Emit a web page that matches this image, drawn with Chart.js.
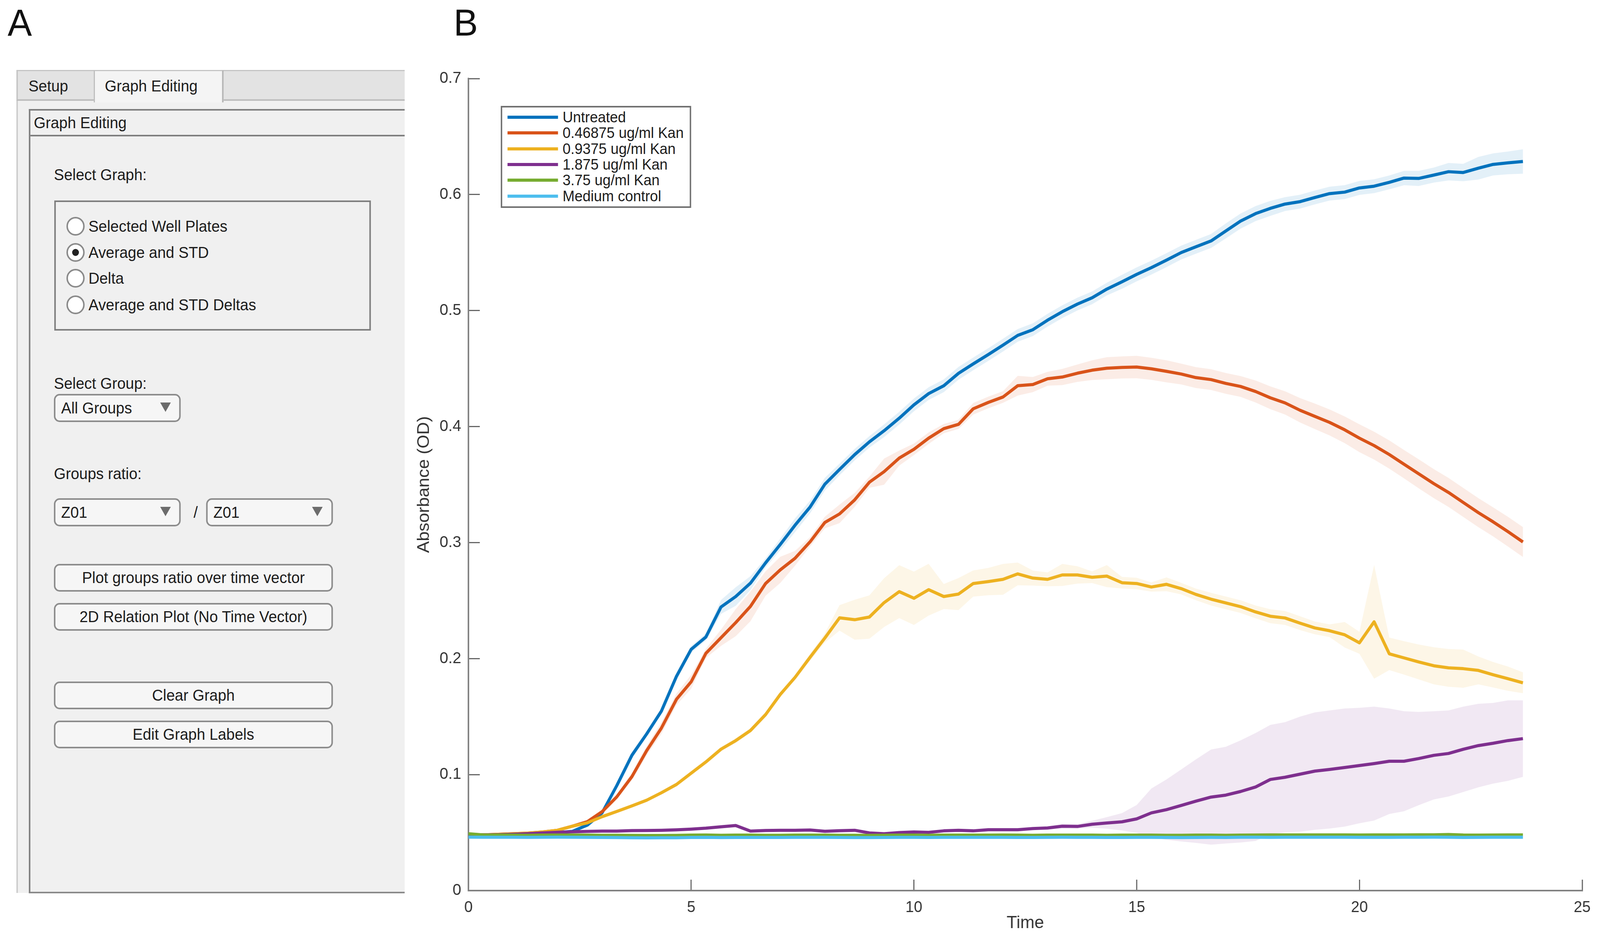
<!DOCTYPE html>
<html>
<head>
<meta charset="utf-8">
<script src="https://cdn.jsdelivr.net/npm/chart.js@4"></script>
<style>
html,body{margin:0;padding:0;background:#fff;overflow:hidden;font-family:"Liberation Sans",Arial,sans-serif}
#page{position:absolute;left:0;top:0;width:4215px;height:2408px;transform-origin:0 0;overflow:hidden;background:#fff}
canvas{position:absolute;left:0;top:0}
.abs{position:absolute;box-sizing:border-box}
.t{position:absolute;white-space:nowrap;font-size:40px;color:#1c1c1c;line-height:60px;height:60px}
.btn{position:absolute;box-sizing:border-box;border:4px solid #8c8c8c;border-radius:15px;background:#f6f6f6;font-size:40px;color:#1c1c1c;display:flex;align-items:center;justify-content:center}
.drop{justify-content:flex-start;padding-left:15px}
.arrow{position:absolute;width:0;height:0;border-left:14px solid transparent;border-right:14px solid transparent;border-top:24px solid #6c6c6c}
.radio{position:absolute;box-sizing:border-box;width:48px;height:48px;border-radius:50%;border:4px solid #8a8a8a;background:#fff}
.dot{position:absolute;left:11px;top:11px;width:18px;height:18px;border-radius:50%;background:#222}
.big{position:absolute;font-size:96px;color:#111;line-height:96px}
#legend{position:absolute;left:1319px;top:271px;width:502px;height:261px;box-sizing:border-box;border:4px solid #707070;background:#fff}
.leg-row{position:absolute;left:0;height:40px}
.leg-line{position:absolute;left:14px;top:16px;width:133px;height:8px}
.leg-text{position:absolute;left:159px;top:-4px;font-size:38px;line-height:48px;white-space:nowrap;color:#1c1c1c}
</style>
</head>
<body>
<div id="page">
<canvas id="growth" width="4215" height="2408"></canvas>

<div class="big" style="left:20px;top:10px">A</div>
<div class="big" style="left:1195px;top:10px">B</div>

<div class="abs" style="left:43px;top:179px;width:1023px;height:2106px;background:#f0f0f0;border-left:4px solid #cbcbcb"></div>
<div class="abs" style="left:43px;top:179px;width:1023px;height:79px;background:#e3e3e3;border-top:3px solid #c4c4c4;border-bottom:4px solid #bdbdbd;border-left:4px solid #c4c4c4"></div>
<div class="abs" style="left:247px;top:179px;width:342px;height:83px;background:#f4f4f4;border-left:3px solid #bdbdbd;border-right:4px solid #b5b5b5;border-top:3px solid #c4c4c4"></div>
<div class="t" style="left:75px;top:190px">Setup</div>
<div class="t" style="left:276px;top:190px">Graph Editing</div>

<div class="abs" style="left:76px;top:279px;width:990px;height:2007px;border-left:4px solid #7e7e7e;border-top:4px solid #7e7e7e;border-bottom:4px solid #8a8a8a"></div>
<div class="abs" style="left:80px;top:345px;width:986px;height:4px;background:#7e7e7e"></div>
<div class="t" style="left:89px;top:284px">Graph Editing</div>

<div class="t" style="left:142px;top:417px">Select Graph:</div>
<div class="abs" style="left:143px;top:513px;width:834px;height:333px;border:4px solid #7e7e7e"></div>
<div class="radio" style="left:175px;top:555px"></div><div class="t" style="left:233px;top:549px">Selected Well Plates</div>
<div class="radio" style="left:175px;top:622px"><div class="dot"></div></div><div class="t" style="left:233px;top:616px">Average and STD</div>
<div class="radio" style="left:175px;top:688px"></div><div class="t" style="left:233px;top:682px">Delta</div>
<div class="radio" style="left:175px;top:756px"></div><div class="t" style="left:233px;top:750px">Average and STD Deltas</div>

<div class="t" style="left:142px;top:951px">Select Group:</div>
<div class="btn drop" style="left:142px;top:1008px;width:334px;height:72px">All Groups</div>
<div class="arrow" style="left:422px;top:1030px"></div>

<div class="t" style="left:142px;top:1182px">Groups ratio:</div>
<div class="btn drop" style="left:142px;top:1275px;width:334px;height:72px">Z01</div>
<div class="arrow" style="left:422px;top:1297px"></div>
<div class="t" style="left:510px;top:1281px">/</div>
<div class="btn drop" style="left:543px;top:1275px;width:334px;height:72px">Z01</div>
<div class="arrow" style="left:822px;top:1297px"></div>

<div class="btn" style="left:142px;top:1443px;width:735px;height:71px">Plot groups ratio over time vector</div>
<div class="btn" style="left:142px;top:1543px;width:735px;height:71px">2D Relation Plot (No Time Vector)</div>
<div class="btn" style="left:142px;top:1744px;width:735px;height:71px">Clear Graph</div>
<div class="btn" style="left:142px;top:1844px;width:735px;height:71px">Edit Graph Labels</div>

<div id="legend"></div>
</div>

<script>
// the browser window can be narrower than the figure, so fit the page to it
document.getElementById('page').style.transform =
  'scale(' + (window.innerWidth / 4215) + ',' + (window.innerHeight / 2408) + ')';

// hours, one row per hour
const time = [
  0, 0.33, 0.67,   1, 1.33, 1.67,   2, 2.33, 2.67,   3, 3.33, 3.67,
  4, 4.33, 4.67,   5, 5.33, 5.67,   6, 6.33, 6.67,   7, 7.33, 7.67,
  8, 8.33, 8.67,   9, 9.33, 9.67,   10, 10.33, 10.67,   11, 11.33, 11.67,
  12, 12.33, 12.67,   13, 13.33, 13.67,   14, 14.33, 14.67,   15, 15.33, 15.67,
  16, 16.33, 16.67,   17, 17.33, 17.67,   18, 18.33, 18.67,   19, 19.33, 19.67,
  20, 20.33, 20.67,   21, 21.33, 21.67,   22, 22.33, 22.67,   23, 23.33, 23.67
];

const names = ['Untreated', '0.46875 ug/ml Kan', '0.9375 ug/ml Kan', '1.875 ug/ml Kan', '3.75 ug/ml Kan', 'Medium control'];
const colors = ['#0072BD', '#D95319', '#EDB120', '#7E2F8E', '#77AC30', '#4DBEEE'];

const untreated = [
  .0485,.048,.048,  .0485,.049,.0495,  .05,.051,.0565,  .067,.0905,.1167,
  .135,.1546,.1847,  .208,.2186,.2445,  .2535,.265,.2825,  .2984,.3149,.3307,
  .3503,.363,.3758,  .3868,.3964,.4072,  .4187,.4284,.4352,  .4459,.454,.4621,
  .4702,.4786,.4835,  .4917,.499,.5056,  .511,.5185,.5248,  .5312,.537,.5435,
  .55,.555,.56,  .5686,.5771,.5836,  .5881,.5918,.5939,  .5975,.6008,.6021,
  .6057,.6072,.6105,  .6142,.6139,.6168,  .6197,.619,.6227,  .626,.6273,.6285
];
const kan046 = [
  .048,.048,.0485,  .049,.0495,.0505,  .052,.0555,.0594,  .068,.0808,.0983,
  .1206,.14,.1649,  .18,.2045,.218,  .231,.245,.2647,  .2765,.2864,.3007,
  .3173,.3247,.3368,  .352,.3611,.3728,  .3804,.39,.3982,  .4019,.4153,.4208,
  .4255,.4352,.4362,  .4412,.4427,.446,  .4486,.4503,.451,  .4513,.4498,.4476,
  .4453,.4422,.4405,  .4372,.4346,.4302,  .4248,.4204,.414,  .4088,.4036,.3972,
  .39,.3836,.3759,  .3676,.3593,.3508,  .3432,.3346,.3258,  .3179,.3095,.3005
];
const kan094 = [
  .048,.048,.0485,  .049,.0495,.0505,  .052,.0555,.0584,  .0637,.0682,.073,
  .0779,.0843,.0915,  .1012,.1109,.1219,  .1293,.138,.1517,  .1691,.1837,.2012,
  .2177,.2351,.2335,  .2358,.2482,.2577,  .252,.2594,.2535,  .2556,.2647,.2664,
  .2683,.273,.2694,  .2683,.2721,.2721,  .2701,.2711,.2654,  .2647,.2617,.264,
  .2603,.2553,.2512,  .248,.2448,.2402,  .2365,.235,.2305,  .2264,.224,.2205,
  .2136,.2317,.2041,  .2006,.1971,.1938,  .192,.1913,.1898,  .1861,.1827,.1791
];
const kan187 = [
  .048,.048,.0482,  .0485,.049,.0497,  .0503,.0507,.051,  .0513,.0513,.0517,
  .0518,.052,.0524,  .053,.0538,.055,  .0561,.0513,.0518,  .052,.052,.0522,
  .0511,.0516,.052,  .0497,.049,.05,  .0505,.0502,.0515,  .052,.0515,.0525,
  .0525,.0525,.0535,  .054,.0555,.0553,  .0572,.0583,.0593,  .0618,.067,.0698,
  .0734,.0771,.0806,  .0823,.0854,.0893,  .0958,.0977,.1004,  .103,.1044,.1061,
  .1078,.1095,.1115,  .1115,.1138,.1166,  .1182,.1218,.125,  .127,.1293,.131
];
const kan375 = [
  .049,.048,.0479,  .0478,.0477,.0478,  .0479,.0479,.0478,  .0477,.0477,.0476,
  .0475,.0475,.0476,  .0478,.0479,.0477,  .0478,.0478,.0477,  .0477,.0478,.0478,
  .0478,.0477,.0477,  .0476,.0477,.0478,  .0478,.0477,.0478,  .0478,.0478,.0478,
  .0479,.0478,.0477,  .0478,.0478,.0478,  .0478,.0477,.0478,  .0478,.0478,.0477,
  .0477,.0478,.0478,  .0477,.0478,.0479,  .048,.048,.048,  .048,.048,.048,
  .0479,.048,.048,  .048,.0481,.0481,  .0483,.0479,.0478,  .0479,.048,.048
];
const medium = [
  .0461,.046,.046,  .046,.0459,.046,  .0461,.046,.0459,  .0458,.0457,.0456,
  .0455,.0456,.0456,  .0458,.0459,.0457,  .0458,.0458,.0458,  .0458,.0459,.0459,
  .0459,.0458,.0457,  .0457,.0458,.0459,  .0459,.0458,.0459,  .0459,.0459,.0459,
  .0459,.0458,.0458,  .0459,.046,.0459,  .0459,.0458,.0458,  .0459,.0459,.0458,
  .0457,.0458,.0459,  .0458,.046,.046,  .0459,.046,.046,  .046,.046,.046,
  .0459,.0459,.0459,  .046,.046,.0461,  .046,.0458,.0459,  .046,.046,.046
];

// half width of each shaded band
const untreatedStd = [
  .001,.001,.001,  .001,.001,.001,  .001,.001,.0015,  .002,.002,.003,
  .002,.002,.003,  .003,.003,.006,  .008,.006,.004,  .005,.006,.0055,
  .0055,.005,.005,  .005,.0055,.0055,  .0055,.0055,.0055,  .0055,.0055,.0055,
  .0055,.0055,.0055,  .0055,.0055,.0055,  .0055,.0055,.006,  .006,.006,.006,
  .006,.006,.006,  .0065,.0065,.0065,  .0065,.006,.006,  .006,.006,.006,
  .006,.006,.006,  .0062,.0065,.0065,  .0075,.0075,.0098,  .0095,.0098,.0105
];
const kan046Std = [
  .001,.001,.001,  .001,.001,.001,  .001,.001,.001,  .002,.002,.003,
  .004,.005,.005,  .006,.004,.007,  .0117,.0128,.0105,  .0113,.0064,.004,
  .005,.008,.006,  .0048,.0113,.0065,  .005,.005,.004,  .004,.005,.005,
  .005,.0085,.0065,  .006,.007,.0075,  .0085,.0095,.0095,  .0097,.0095,.0095,
  .009,.009,.009,  .009,.009,.0095,  .0098,.01,.0105,  .011,.0112,.0115,
  .012,.012,.0122,  .0122,.0125,.0125,  .0125,.0125,.0125,  .0125,.0128,.0129
];
const kan094Std = [
  .001,.001,.001,  .001,.001,.001,  .001,.001,.001,  .001,.001,.001,
  .001,.001,.001,  .0015,.0015,.002,  .002,.002,.002,  .002,.002,.003,
  .004,.011,.0172,  .0187,.021,.0228,  .023,.0223,.0108,  .0138,.0113,.0118,
  .0133,.0098,.0065,  .006,.0095,.0075,  .005,.0095,.005,  .005,.004,.006,
  .005,.005,.0055,  .0055,.0055,.0055,  .006,.006,.006,  .0055,.0055,.011,
  .0095,.049,.014,  .0144,.015,.016,  .0163,.0165,.012,  .011,.0105,.009
];
const kan187Std = [
  .001,.001,.001,  .001,.001,.001,  .001,.001,.001,  .001,.001,.001,
  .001,.001,.001,  .001,.001,.001,  .001,.001,.001,  .001,.001,.001,
  .001,.001,.001,  .001,.001,.001,  .001,.001,.001,  .001,.001,.001,
  .001,.001,.001,  .0015,.002,.002,  .003,.005,.0075,  .012,.021,.026,
  .031,.036,.041,  .0417,.044,.0465,  .047,.0475,.0496,  .0506,.0509,.0509,
  .0498,.0491,.0455,  .0431,.0402,.038,  .0371,.0368,.036,  .0348,.0347,.033
];
const kan375Std = [
  .0005,.0005,.0005,  .0005,.0005,.0005,  .0005,.0005,.0005,  .0005,.0005,.0005,
  .0005,.0005,.0005,  .0005,.0005,.0005,  .0005,.0005,.0005,  .0005,.0005,.0005,
  .0005,.0005,.0005,  .0005,.0005,.0005,  .0005,.0005,.0005,  .0005,.0005,.0005,
  .0005,.0005,.0005,  .0005,.0005,.0005,  .0005,.0005,.0005,  .0005,.0005,.0005,
  .0005,.0005,.0005,  .0005,.0005,.0005,  .0005,.0005,.0005,  .0005,.0005,.0005,
  .0005,.0005,.0005,  .0005,.0005,.0005,  .0005,.0005,.0005,  .0005,.0005,.0005
];
const mediumStd = kan375Std;

const means = [untreated, kan046, kan094, kan187, kan375, medium];
const stds = [untreatedStd, kan046Std, kan094Std, kan187Std, kan375Std, mediumStd];

function hexToBand(hex) {
  const n = parseInt(hex.slice(1), 16);
  return 'rgba(' + (n >> 16) + ',' + ((n >> 8) & 255) + ',' + (n & 255) + ',0.11)';
}

const datasets = [];
names.forEach((name, i) => {
  // band: upper edge fills down to the lower edge right after it
  datasets.push({
    label: name + ' upper',
    data: means[i].map((v, k) => ({x: time[k], y: v + stds[i][k]})),
    borderWidth: 0, pointRadius: 0, tension: 0,
    backgroundColor: hexToBand(colors[i]),
    fill: '+1', order: 20 + i
  });
  datasets.push({
    label: name + ' lower',
    data: means[i].map((v, k) => ({x: time[k], y: v - stds[i][k]})),
    borderWidth: 0, pointRadius: 0, tension: 0,
    fill: false, order: 20 + i
  });
  datasets.push({
    label: name,
    data: means[i].map((v, k) => ({x: time[k], y: v})),
    borderColor: colors[i], borderWidth: 8, pointRadius: 0, tension: 0,
    borderJoinStyle: 'round', fill: false, order: 10 - i
  });
});

const growth = new Chart(document.getElementById('growth').getContext('2d'), {
  type: 'line',
  data: {datasets: datasets},
  options: {
    responsive: false,
    animation: false,
    devicePixelRatio: 1,
    layout: {padding: {left: 1091, top: 201, right: 47, bottom: 18}},
    plugins: {legend: {display: false}, tooltip: {enabled: false}},
    scales: {
      x: {
        type: 'linear', min: 0, max: 25,
        afterFit: s => { s.height = 111; s.paddingLeft = 0; s.paddingRight = 0; },
        ticks: {stepSize: 5, maxRotation: 0, padding: 48, color: '#333', font: {family: 'Liberation Sans', size: 40}},
        grid: {drawOnChartArea: false, tickLength: -28, tickColor: '#666', tickWidth: 3},
        border: {color: '#808080', width: 4},
        title: {display: true, text: 'Time', color: '#333', padding: 0, font: {family: 'Liberation Sans', size: 45}}
      },
      y: {
        min: 0, max: 0.7,
        afterFit: s => { s.width = 143; s.paddingTop = 0; s.paddingBottom = 0; },
        ticks: {
          stepSize: 0.1, padding: 49, color: '#333', font: {family: 'Liberation Sans', size: 41},
          callback: v => (v === 0 ? '0' : v.toFixed(1))
        },
        grid: {drawOnChartArea: false, tickLength: -30, tickColor: '#666', tickWidth: 3},
        border: {color: '#808080', width: 4},
        title: {display: true, text: 'Absorbance (OD)', color: '#333', padding: 0, font: {family: 'Liberation Sans', size: 45}}
      }
    }
  }
});

// legend box inside the axes
const legend = document.getElementById('legend');
names.forEach((name, i) => {
  const row = document.createElement('div');
  row.className = 'leg-row';
  row.style.top = (5 + i * 40.3) + 'px';
  row.innerHTML = '<div class="leg-line" style="background:' + colors[i] + '"></div><div class="leg-text">' + name + '</div>';
  legend.appendChild(row);
});
</script>
</body>
</html>
